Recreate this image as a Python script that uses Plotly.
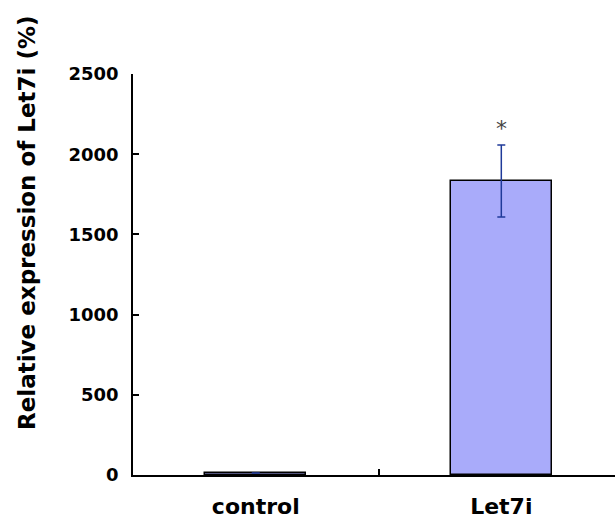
import plotly.graph_objects as go

categories = ["control", "Let7i"]
values = [12, 1833]
errors = [0, 225]
y_ticks = [0, 500, 1000, 1500, 2000, 2500]
y_title = "Relative expression of Let7i (%)"

FONT = "DejaVu Sans"
L, R, T, B = 133, 0, 74, 48
W, H = 615, 523

fig = go.Figure()
fig.add_trace(go.Bar(
    x=categories, y=values, width=0.41,
    marker=dict(color="#A9ABFA", line=dict(color="black", width=1.5)),
    error_y=dict(type="data", array=errors, visible=True,
                 color="#1f3a99", thickness=1.5, width=4),
    showlegend=False,
))

fig.add_annotation(x=categories[1], y=values[1] + errors[1], text="*",
                   showarrow=False, yanchor="bottom", yshift=2,
                   font=dict(family=FONT, size=22, color="#444444"))

plot_h = H - T - B
fig.add_annotation(xref="paper", yref="paper",
                   x=(27 - L) / (W - L - R), y=(H - B - 223) / plot_h,
                   text=y_title, textangle=-90,
                   showarrow=False, xanchor="center", yanchor="middle",
                   font=dict(family=FONT, size=23, color="black", weight="bold"))

fig.update_layout(
    width=W, height=H,
    margin=dict(l=L, r=R, t=T, b=B, pad=0, autoexpand=False),
    plot_bgcolor="white", paper_bgcolor="white",
    bargap=0,
    xaxis=dict(
        type="category", range=[-0.5, 1.463], automargin=False,
        tickson="boundaries", ticks="inside", ticklen=6, tickwidth=1.5,
        tickcolor="black",
        showline=True, linecolor="black", linewidth=1.5,
        showgrid=False, zeroline=False,
        tickfont=dict(family=FONT, size=22, color="black", weight="bold"),
        ticklabelstandoff=11,
    ),
    yaxis=dict(
        range=[0, 2500], tickvals=y_ticks, automargin=False,
        ticks="inside", ticklen=6, tickwidth=1.5, tickcolor="black",
        showline=True, linecolor="black", linewidth=1.5,
        showgrid=False, zeroline=False,
        tickfont=dict(family=FONT, size=18, color="black", weight="bold"),
        ticklabelstandoff=9,
    ),
)

fig.write_html("out.html",
               config={"displayModeBar": False},
               post_script="document.body.style.margin='0';document.body.style.overflow='hidden';")
